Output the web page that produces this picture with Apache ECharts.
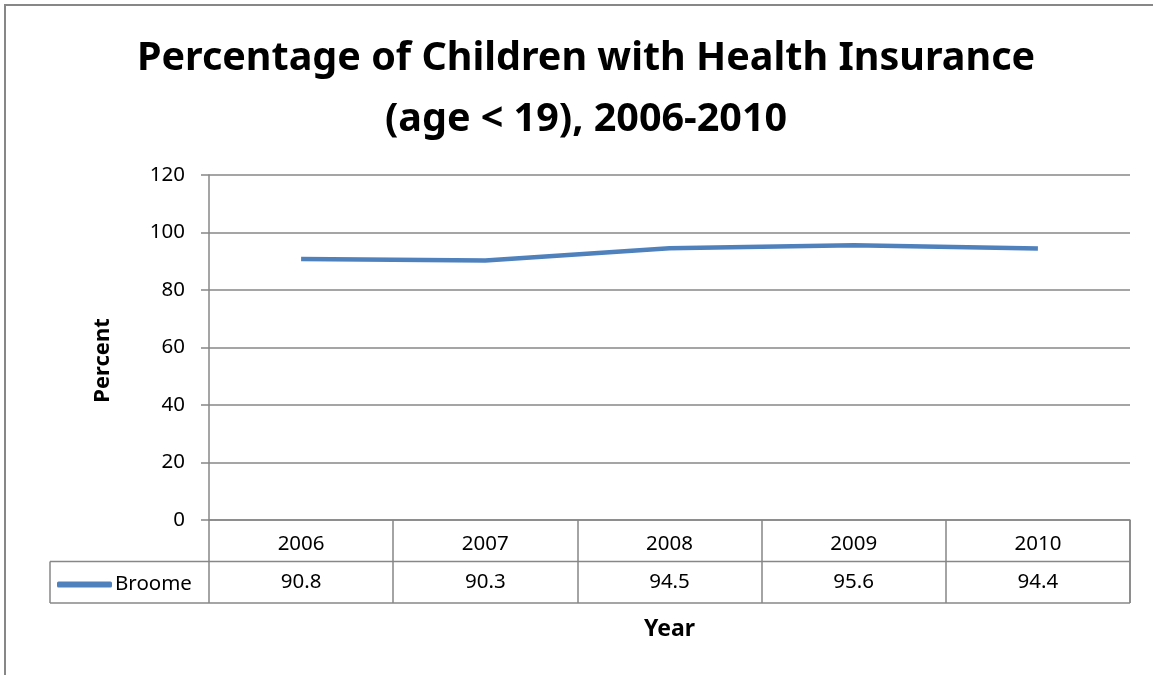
<!DOCTYPE html>
<html>
<head>
<meta charset="utf-8">
<script src="https://cdn.jsdelivr.net/npm/echarts@6/dist/echarts.min.js"></script>
<style>
  html, body { margin: 0; padding: 0; background: #fff; }
  #main { width: 1153px; height: 675px; }
</style>
</head>
<body>
<div id="main"></div>
<script>
// data
const years = ['2006', '2007', '2008', '2009', '2010'];
const broome = [90.8, 90.3, 94.5, 95.6, 94.4];
const seriesName = 'Broome';

// layout
const G = { left: 209, right: 23, top: 175, bottom: 155 };
const rowH = 41.5;
const gridColor = '#878787';
const font = 'Noto Sans';

const chart = echarts.init(document.getElementById('main'));
const option = {
    animation: false,
    title: {
        text: 'Percentage of Children with Health Insurance\n(age < 19), 2006-2010',
        left: 581,
        textAlign: 'center',
        top: 23,
        textStyle: {
            fontFamily: font,
            fontWeight: 'bold',
            fontSize: 39.5,
            lineHeight: 61,
            color: '#000'
        }
    },
    grid: { left: G.left, right: G.right, top: G.top, bottom: G.bottom },
    legend: {
        data: [seriesName],
        left: 52,
        top: 569,
        itemWidth: 55,
        itemHeight: 6,
        itemGap: 4,
        icon: 'roundRect',
        textStyle: { fontFamily: font, fontSize: 20.5, color: '#000', padding: [0, 0, 0, -2] }
    },
    xAxis: {
        type: 'category',
        data: years,
        boundaryGap: true,
        axisLine: { show: true, lineStyle: { color: gridColor, width: 1.5 } },
        axisTick: { show: true, length: rowH * 2, lineStyle: { color: gridColor, width: 1.5 } },
        axisLabel: { margin: 14, fontFamily: font, fontSize: 20.5, color: '#000' },
        name: 'Year',
        nameLocation: 'middle',
        nameGap: 98,
        nameTextStyle: { fontFamily: font, fontWeight: 'bold', fontSize: 23, color: '#000' }
    },
    yAxis: {
        type: 'value',
        min: 0,
        max: 120,
        interval: 20,
        axisLine: { show: true, lineStyle: { color: gridColor, width: 1.5 } },
        axisTick: { show: true, length: 8, lineStyle: { color: gridColor, width: 1.5 } },
        splitLine: { show: true, lineStyle: { color: gridColor, width: 1.5 } },
        axisLabel: { margin: 24, fontFamily: font, fontSize: 20.5, color: '#000' },
        name: 'Percent',
        nameLocation: 'middle',
        nameGap: 95,
        nameRotate: 90,
        nameTextStyle: { fontFamily: font, fontWeight: 'bold', fontSize: 22, color: '#000', padding: [0, 26, 0, 0] }
    },
    series: [{
        name: seriesName,
        type: 'line',
        data: broome,
        symbol: 'none',
        lineStyle: { color: '#4F81BD', width: 4.5 },
        itemStyle: { color: '#4F81BD' }
    }]
};
chart.setOption(option);

// data table: value row + borders
const x0 = G.left, x1 = 1153 - G.right, yb = 675 - G.bottom;
const graphics = [
    { type: 'rect', shape: { x: 5, y: 5, width: 1170, height: 690 }, style: { fill: null, stroke: gridColor, lineWidth: 2 } },
    { type: 'line', shape: { x1: x1, y1: yb, x2: x1, y2: yb + rowH * 2 }, style: { stroke: gridColor, lineWidth: 1.5 } },
    { type: 'line', shape: { x1: 50, y1: yb + rowH, x2: x1, y2: yb + rowH }, style: { stroke: gridColor, lineWidth: 1.5 } },
    { type: 'line', shape: { x1: 50, y1: yb + rowH * 2, x2: x1, y2: yb + rowH * 2 }, style: { stroke: gridColor, lineWidth: 1.5 } },
    { type: 'line', shape: { x1: 50, y1: yb + rowH, x2: 50, y2: yb + rowH * 2 }, style: { stroke: gridColor, lineWidth: 1.5 } }
];
broome.forEach((v, i) => {
    const px = chart.convertToPixel({ xAxisIndex: 0 }, years[i]);
    graphics.push({
        type: 'text',
        x: px, y: yb + rowH * 1.5,
        style: { text: v.toFixed(1), fontFamily: font, fontSize: 20.5, fill: '#000', align: 'center', verticalAlign: 'middle' }
    });
});
chart.setOption({ graphic: graphics });
</script>
</body>
</html>
